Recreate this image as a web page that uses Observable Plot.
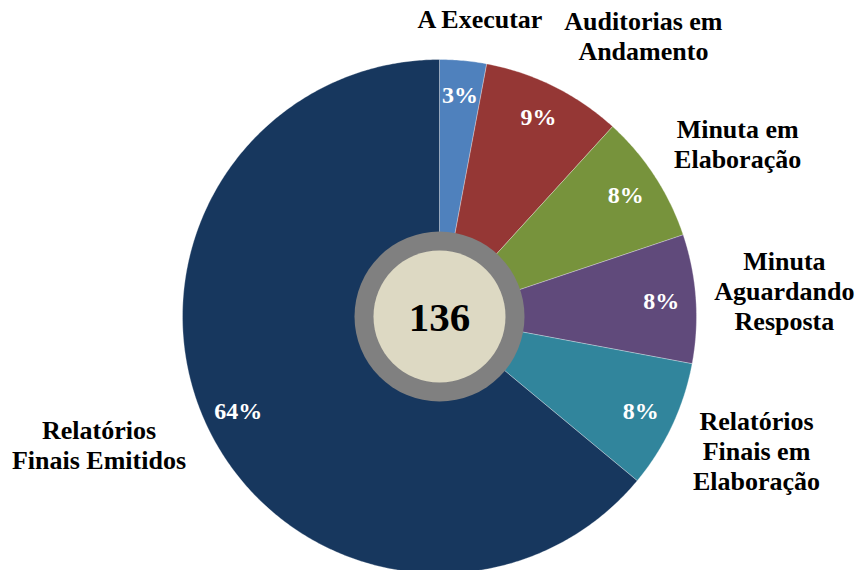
<!DOCTYPE html>
<html><head><meta charset="utf-8">
<script src="https://cdn.jsdelivr.net/npm/d3@7"></script>
<script src="https://cdn.jsdelivr.net/npm/@observablehq/plot@0.6"></script>
<style>body{margin:0;background:#fff;} #chart{width:860px;height:570px;overflow:hidden;}</style>
</head><body><div id="chart"></div>
<script>
const categories = ["A Executar", "Auditorias em\nAndamento", "Minuta em\nElaboração", "Minuta\nAguardando\nResposta", "Relatórios\nFinais em\nElaboração", "Relatórios\nFinais Emitidos"];
const counts = [4, 12, 11, 11, 11, 87];
const colors = ["#4F81BD", "#953735", "#77933C", "#604A7B", "#31859C", "#17375E"];

const W = 860, H = 570, CX = 439, CY = 316, R = 257;
const FONT = "'Liberation Serif', 'Times New Roman', serif";
const total = d3.sum(counts);
const arcs = d3.pie().sort(null).value(d => d)(counts);
const slices = arcs.map((a, i) => ({
  i, cat: categories[i], count: counts[i], color: colors[i],
  a0: a.startAngle, a1: a.endAngle, mid: (a.startAngle + a.endAngle) / 2,
  pct: Math.round(counts[i] / total * 100) + "%"
}));

// polygon vertices for each slice, from the pie angles
const pts = slices.flatMap(s => {
  const n = Math.max(2, Math.ceil((s.a1 - s.a0) / (Math.PI / 360)));
  const arr = [{key: s.i, color: s.color, x: 0, y: 0}];
  for (let k = 0; k <= n; k++) {
    const t = s.a0 + (s.a1 - s.a0) * k / n;
    arr.push({key: s.i, color: s.color, x: Math.sin(t), y: Math.cos(t)});
  }
  arr.push({key: s.i, color: s.color, x: 0, y: 0});
  return arr;
});

const pctLabels = slices.map(s => ({text: s.pct, x: 0.865 * Math.sin(s.mid), y: 0.865 * Math.cos(s.mid)}));

const FS = 26;
const ctx = document.createElement("canvas").getContext("2d");
ctx.font = `bold ${FS}px ${FONT}`;
const LH = 30, LR = 280;
const catLabels = slices.map(s => {
  const lines = s.cat.split("\n");
  const w = d3.max(lines, l => ctx.measureText(l).width);
  const h = lines.length * LH;
  const sn = Math.sin(s.mid), cs = Math.cos(s.mid);
  const px = CX + LR * sn, py = CY - LR * cs;
  let cx = px + (w / 2) * Math.max(-1, Math.min(1, sn / 0.4));
  cx = Math.max(w / 2 + 6, Math.min(W - 6 - w / 2, cx));
  const cy = py - cs * h / 2;
  return {text: s.cat, x: (cx - CX) / R, y: (CY - cy) / R};
});

const center = [{x: 0, y: 0, text: String(total)}];

const chart = Plot.plot({
  width: W, height: H, margin: 0,
  style: {background: "white"},
  x: {domain: [-1, 1], range: [CX - R, CX + R], axis: null},
  y: {domain: [-1, 1], range: [CY + R, CY - R], axis: null},
  color: {type: "identity"},
  marks: [
    Plot.line(pts, {x: "x", y: "y", z: "key", fill: "color", stroke: "#ffffff", strokeWidth: 0.6, strokeOpacity: 0.5, curve: "linear"}),
    Plot.dot(center, {x: "x", y: "y", r: 85, fill: "#808080", stroke: null}),
    Plot.dot(center, {x: "x", y: "y", r: 66, fill: "#DDD9C3", stroke: null}),
    Plot.text(center, {x: "x", y: "y", text: "text", fontSize: 41, fontWeight: "bold", fontFamily: FONT, fill: "#000", dy: 1}),
    Plot.text(pctLabels, {x: "x", y: "y", text: "text", fontSize: 24, fontWeight: "bold", fontFamily: FONT, fill: "#fff"}),
    Plot.text(catLabels, {x: "x", y: "y", text: "text", fontSize: FS, fontWeight: "bold", fontFamily: FONT, fill: "#000", textAnchor: "middle", lineAnchor: "middle", lineHeight: LH / FS, dy: -4})
  ]
});
document.getElementById("chart").appendChild(chart);
</script>
</body></html>
